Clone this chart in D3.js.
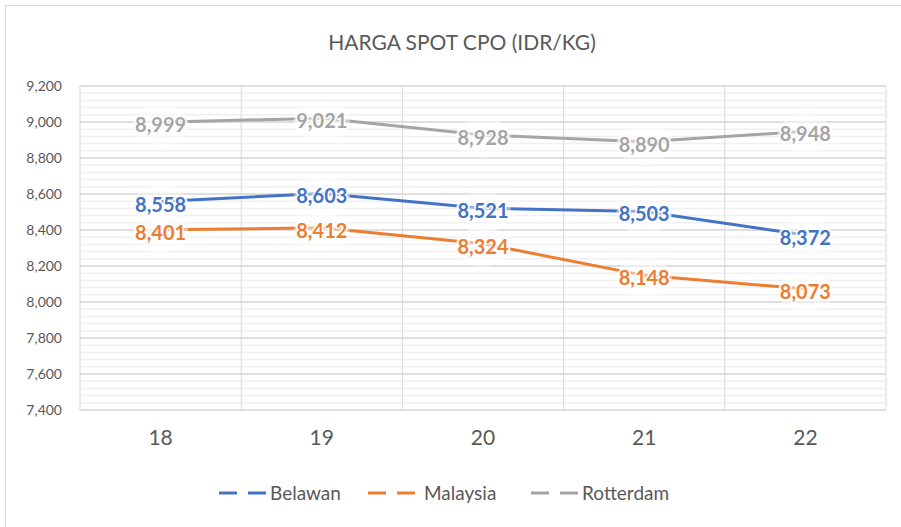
<!DOCTYPE html>
<html>
<head>
<meta charset="utf-8">
<script src="https://cdn.jsdelivr.net/npm/d3@7"></script>
<style>
body { margin: 0; background: #fff; }
text { font-family: Lato, "Open Sans", sans-serif; }
</style>
</head>
<body>
<div id="canvas"></div>
<script>
// data
var categories = ["18", "19", "20", "21", "22"];
var belawan = [8558, 8603, 8521, 8503, 8372];
var malaysia = [8401, 8412, 8324, 8148, 8073];
var rotterdam = [8999, 9021, 8928, 8890, 8948];
var seriesNames = ["Belawan", "Malaysia", "Rotterdam"];
var yTicks = [7400, 7600, 7800, 8000, 8200, 8400, 8600, 8800, 9000, 9200];

var colors = ["#4472C4", "#ED7D31", "#A5A5A5"];
var allSeries = [belawan, malaysia, rotterdam];

var w = 901, h = 527;
var plotLeft = 80, plotRight = 886, plotTop = 86, plotBottom = 410;

var paper = d3.select("#canvas")
	.append("svg")
	.attr("width", w)
	.attr("height", h);

// chart border
paper.append("rect")
	.attr("x", 5.5).attr("y", 5.5)
	.attr("width", w + 20).attr("height", h + 20)
	.style("fill", "#fff")
	.style("stroke", "#d9d9d9");

var x = d3.scaleBand().domain(categories).range([plotLeft, plotRight]);
var y = d3.scaleLinear().domain([7400, 9200]).range([plotBottom, plotTop]);

// minor gridlines
paper.append("g").selectAll("line")
	.data(d3.range(7400, 9201, 40))
	.join("line")
	.attr("x1", plotLeft).attr("x2", plotRight)
	.attr("y1", d => y(d)).attr("y2", d => y(d))
	.style("stroke", "#f0f0f0")
	.style("stroke-width", 1.5);

// major gridlines
paper.append("g").selectAll("line")
	.data(yTicks)
	.join("line")
	.attr("x1", plotLeft).attr("x2", plotRight)
	.attr("y1", d => y(d)).attr("y2", d => y(d))
	.style("stroke", "#d9d9d9")
	.style("stroke-width", 1.5);

// vertical gridlines
var bounds = categories.map(c => x(c)).concat([plotRight]);
paper.append("g").selectAll("line")
	.data(bounds)
	.join("line")
	.attr("x1", d => d).attr("x2", d => d)
	.attr("y1", plotTop).attr("y2", plotBottom)
	.style("stroke", "#d9d9d9")
	.style("stroke-width", 1);

// y axis labels
var yAxis = paper.append("g")
	.attr("transform", "translate(" + (plotLeft - 18) + ",0)")
	.call(d3.axisLeft(y).tickValues(yTicks).tickFormat(d3.format(",")).tickSize(0).tickPadding(0));
yAxis.select(".domain").remove();
yAxis.selectAll("text")
	.style("font-size", "14px")
	.style("fill", "#595959")
	.style("font-family", "Lato, sans-serif");

// x axis labels
var xAxis = paper.append("g")
	.attr("transform", "translate(0," + (plotBottom + 20) + ")")
	.call(d3.axisBottom(x).tickSize(0).tickPadding(0));
xAxis.select(".domain").remove();
xAxis.selectAll("text")
	.style("font-size", "21px")
	.style("fill", "#595959")
	.style("font-family", "Lato, sans-serif");

// title
paper.append("text")
	.attr("x", 462)
	.attr("y", 50)
	.attr("text-anchor", "middle")
	.style("font-size", "21px")
	.style("fill", "#595959")
	.text("HARGA SPOT CPO (IDR/KG)");

// lines
var line = d3.line()
	.x((d, i) => x(categories[i]) + x.bandwidth() / 2)
	.y(d => y(d));

allSeries.forEach(function (s, k) {
	paper.append("path")
		.datum(s)
		.attr("d", line)
		.style("fill", "none")
		.style("stroke", colors[k])
		.style("stroke-width", 3)
		.style("stroke-linejoin", "round");
});

// data labels
allSeries.forEach(function (s, k) {
	var g = paper.append("g");
	g.selectAll("ellipse")
		.data(s)
		.join("ellipse")
		.attr("cx", (d, i) => x(categories[i]) + x.bandwidth() / 2)
		.attr("cy", d => y(d) + 3)
		.attr("rx", 28).attr("ry", 20)
		.style("fill", "#fff")
		.style("opacity", 0.45);
	g.selectAll("text")
		.data(s)
		.join("text")
		.attr("x", (d, i) => x(categories[i]) + x.bandwidth() / 2)
		.attr("y", d => y(d) + 10)
		.attr("text-anchor", "middle")
		.style("font-size", "20px")
		.style("font-weight", "bold")
		.style("fill", colors[k])
		.style("stroke", "#fff")
		.style("stroke-width", 3)
		.style("paint-order", "stroke")
		.text(d => d3.format(",")(d));
});

// legend
var legendX = [219, 368, 531];
var legendTextX = [51, 56, 51];
seriesNames.forEach(function (name, k) {
	var lg = paper.append("g").attr("transform", "translate(" + legendX[k] + ",493)");
	lg.append("line")
		.attr("x1", 0).attr("x2", 18).attr("y1", 0).attr("y2", 0)
		.style("stroke", colors[k]).style("stroke-width", 3);
	lg.append("line")
		.attr("x1", 29).attr("x2", 47).attr("y1", 0).attr("y2", 0)
		.style("stroke", colors[k]).style("stroke-width", 3);
	lg.append("text")
		.attr("x", legendTextX[k])
		.attr("y", 7)
		.style("font-size", "19px")
		.style("fill", "#595959")
		.text(name);
});
</script>
</body>
</html>
